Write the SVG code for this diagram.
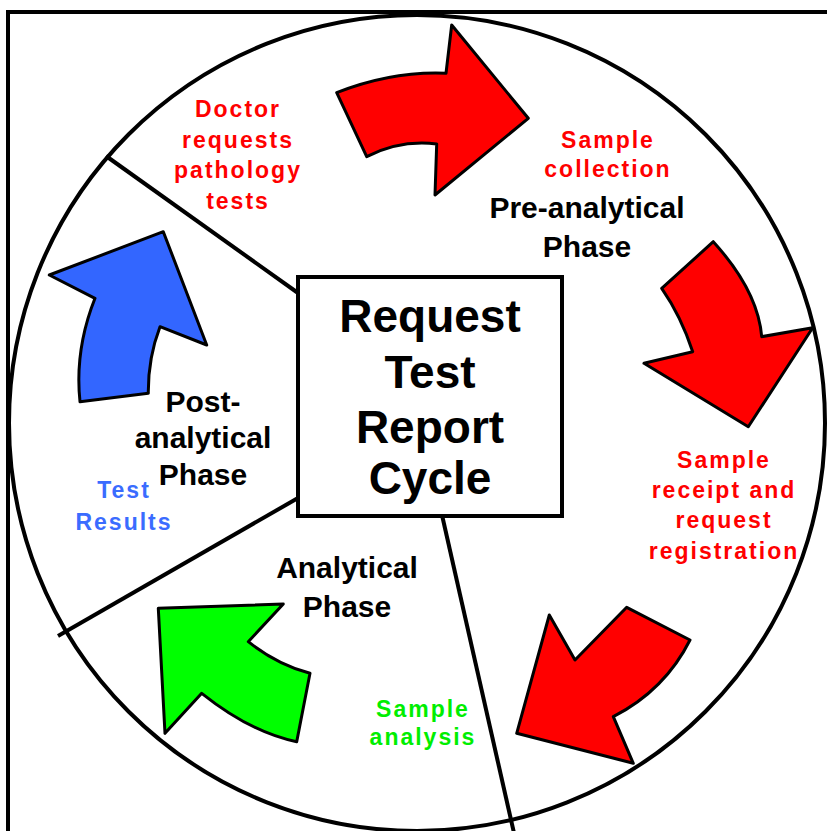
<svg xmlns="http://www.w3.org/2000/svg" width="827" height="831" viewBox="0 0 827 831">
<style>
.frame{fill:none;stroke:#000;stroke-width:4}
.ring{fill:#fff;stroke:#000;stroke-width:4}
.div{stroke:#000;stroke-width:4;fill:none}
.arrow{stroke:#000;stroke-width:3;stroke-linejoin:round}
.red{fill:#ff0000}
.green{fill:#00ff00}
.blue{fill:#3366ff}
.phase{font-family:"Liberation Sans",Arial,sans-serif;font-weight:bold;font-size:30px;fill:#000;text-anchor:middle}
.title{font-family:"Liberation Sans",Arial,sans-serif;font-weight:bold;font-size:46px;fill:#000;text-anchor:middle}
.step{font-family:"Liberation Sans",Arial,sans-serif;font-weight:bold;font-size:23px;letter-spacing:2px;text-anchor:middle}
.tred{fill:#ff0000}
.tgreen{fill:#00ee00}
.tblue{fill:#3a6cff}
</style>
<rect width="827" height="831" fill="#fff"/>
<path class="frame" d="M8,833 V12 H829"/>
<circle class="ring" cx="417" cy="423" r="408"/>
<g id="connectors">
<line class="div" x1="106" y1="156" x2="298" y2="293"/>
<line class="div" x1="298" y1="498" x2="58" y2="636"/>
<line class="div" x1="442" y1="515" x2="514" y2="833"/>
</g>
<g id="center">
<rect x="298" y="277" width="264" height="239" fill="#fff" stroke="#000" stroke-width="4"/>
<text class="title" x="430" y="332">Request</text>
<text class="title" x="430" y="388">Test</text>
<text class="title" x="430" y="443">Report</text>
<text class="title" x="430" y="494">Cycle</text>
</g>
<g id="arrow-collection">
<path class="arrow red" d="M336.7,92.7 L366.7,156.7 Q400,139.6 436.7,144 L435,195 L528.3,118.3 L451.7,25 L446,73.3 Q392,71 336.7,92.7 Z"/>
</g>
<g id="arrow-receipt">
<path class="arrow red" d="M661.7,288.3 L713.3,241.7 Q758,291 761.7,336.7 L812.7,327.7 L748.3,426.7 L644,363.3 L692.7,351.7 Q681,316 661.7,288.3 Z"/>
</g>
<g id="arrow-analysis">
<path class="arrow red" d="M549.3,615 L575,660 L626.7,607.3 L690,640 Q665,690 613.3,716.7 L633.3,763.3 L516.7,733.3 Z"/>
</g>
<g id="arrow-results">
<path class="arrow green" d="M158.3,608.3 L283.3,604 L248.3,641.7 Q277,664.5 310,673.3 L296.7,741.7 Q251,732.5 201.7,693.3 L165,733.3 Z"/>
</g>
<g id="arrow-doctor">
<path class="arrow blue" d="M49.3,275 L163.3,231.7 L206.7,345 L160,326.7 Q148,358 148.3,393.3 L80,401.7 Q74.5,350 95,298.3 Z"/>
</g>
<g id="label-doctor">
<text class="step tred" x="238" y="117">Doctor</text>
<text class="step tred" x="238" y="148">requests</text>
<text class="step tred" x="238" y="178">pathology</text>
<text class="step tred" x="238" y="209">tests</text>
</g>
<g id="label-collection">
<text class="step tred" x="608" y="148">Sample</text>
<text class="step tred" x="608" y="177">collection</text>
</g>
<g id="label-receipt">
<text class="step tred" x="724" y="468">Sample</text>
<text class="step tred" x="724" y="498">receipt and</text>
<text class="step tred" x="724" y="528">request</text>
<text class="step tred" x="724" y="559">registration</text>
</g>
<g id="label-analysis">
<text class="step tgreen" x="423" y="717">Sample</text>
<text class="step tgreen" x="423" y="745">analysis</text>
</g>
<g id="label-results">
<text class="step tblue" x="124" y="498">Test</text>
<text class="step tblue" x="124" y="530">Results</text>
</g>
<g id="phase-pre">
<text class="phase" x="587" y="218">Pre-analytical</text>
<text class="phase" x="587" y="257">Phase</text>
</g>
<g id="phase-analytical">
<text class="phase" x="347" y="578">Analytical</text>
<text class="phase" x="347" y="617">Phase</text>
</g>
<g id="phase-post">
<text class="phase" x="203" y="412">Post-</text>
<text class="phase" x="203" y="448">analytical</text>
<text class="phase" x="203" y="485">Phase</text>
</g>
</svg>
